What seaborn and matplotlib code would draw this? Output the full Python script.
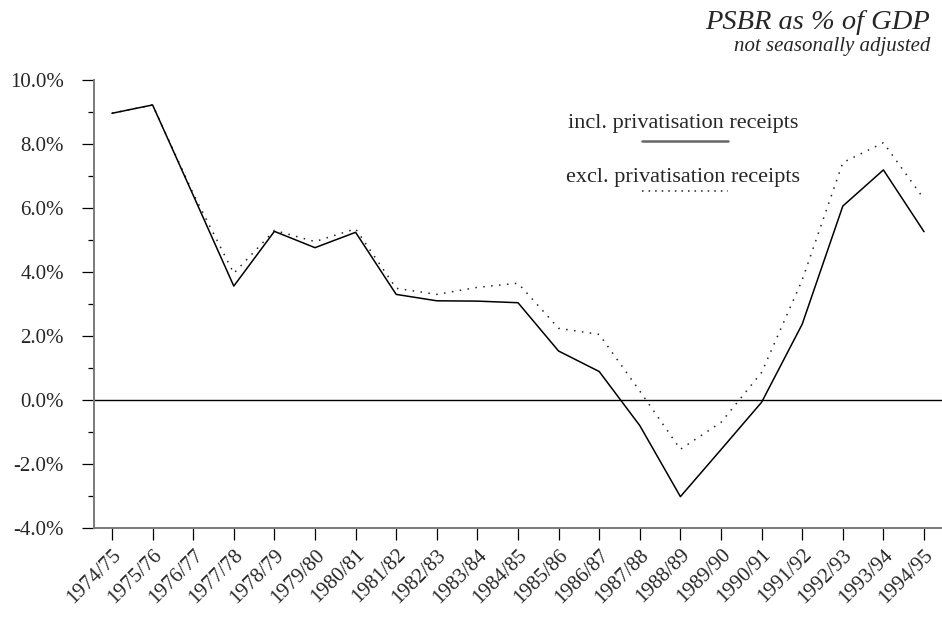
import matplotlib
matplotlib.use("Agg")
import matplotlib.pyplot as plt
from matplotlib.lines import Line2D
from matplotlib.ticker import MultipleLocator, FuncFormatter
import numpy as np
import pandas as pd
import seaborn as sns

# Financial years
years = ["1974/75", "1975/76", "1976/77", "1977/78", "1978/79", "1979/80",
         "1980/81", "1981/82", "1982/83", "1983/84", "1984/85", "1985/86",
         "1986/87", "1987/88", "1988/89", "1989/90", "1990/91", "1991/92",
         "1992/93", "1993/94", "1994/95"]

# PSBR as % of GDP
incl_privatisation = [8.96, 9.22, 6.40, 3.56, 5.27, 4.76, 5.24, 3.30, 3.10,
                      3.09, 3.04, 1.53, 0.89, -0.80, -3.02, -1.55, -0.07,
                      2.37, 6.06, 7.19, 5.26]
excl_privatisation = [8.96, 9.22, 6.45, 3.96, 5.30, 4.95, 5.35, 3.49, 3.30,
                      3.52, 3.65, 2.24, 2.05, 0.28, -1.54, -0.70, 0.86,
                      3.75, 7.42, 8.04, 6.28]

series_labels = ["incl. privatisation receipts", "excl. privatisation receipts"]
title = "PSBR as % of GDP"
subtitle = "not seasonally adjusted"

sns.set_theme(style="white")
plt.rcParams["font.family"] = ["Liberation Serif", "DejaVu Serif"]

W, H = 942, 621
fig = plt.figure(figsize=(W / 100, H / 100), dpi=100)
ax = fig.add_axes([94 / W, 1 - 528 / H, (942 - 94) / W, (528 - 80) / H])

df = pd.DataFrame({"year": years, "incl": incl_privatisation,
                   "excl": excl_privatisation})

sns.lineplot(data=df, x="year", y="excl", ax=ax, sort=False, color="#222222",
             linewidth=1.1, linestyle=(0, (1, 4.2)))
sns.lineplot(data=df, x="year", y="incl", ax=ax, sort=False, color="black",
             linewidth=1.1)

ax.axhline(0, color="black", linewidth=1.0, zorder=1)

ax.set_xlim(-0.443, len(years) - 1 + 0.443)
ax.set_ylim(-4, 10)
ax.yaxis.set_major_locator(MultipleLocator(2))
ax.yaxis.set_minor_locator(MultipleLocator(1))
ax.yaxis.set_major_formatter(FuncFormatter(lambda v, p: f"{v:.1f}%"))
ax.set_xlabel("")
ax.set_ylabel("")

for side in ("top", "right"):
    ax.spines[side].set_visible(False)
for side in ("left", "bottom"):
    ax.spines[side].set_color("#7a7a7a")
    ax.spines[side].set_linewidth(1.4)

ax.tick_params(axis="y", which="major", direction="out", length=8.6,
               width=0.9, color="black", labelsize=15, pad=13, left=True)
ax.tick_params(axis="y", which="minor", direction="out", length=4.3,
               width=0.9, color="black", left=True)
ax.tick_params(axis="x", which="major", direction="out", length=8.6,
               width=0.9, color="black", labelsize=15, pad=4, bottom=True)
plt.setp(ax.get_xticklabels(), rotation=45, ha="right", rotation_mode="anchor")

# Title block, right aligned
fig.text(930 / W, 1 - 29 / H, title, ha="right", va="baseline",
         fontsize=20.5, style="italic")
fig.text(930 / W, 1 - 51 / H, subtitle, ha="right", va="baseline",
         fontsize=15, style="italic")

# Key: label with its line sample underneath
cx = 683
fig.text(cx / W, 1 - 128 / H, series_labels[0], ha="center", va="baseline",
         fontsize=16)
fig.add_artist(Line2D([642 / W, 728 / W], [1 - 141 / H, 1 - 141 / H],
                      color="#666666", linewidth=1.8))
fig.text(cx / W, 1 - 182 / H, series_labels[1], ha="center", va="baseline",
         fontsize=16)
fig.add_artist(Line2D([642 / W, 728 / W], [1 - 191 / H, 1 - 191 / H],
                      color="#222222", linewidth=1.1,
                      linestyle=(0, (1, 3.3))))

fig.savefig("out.png", dpi=100)
